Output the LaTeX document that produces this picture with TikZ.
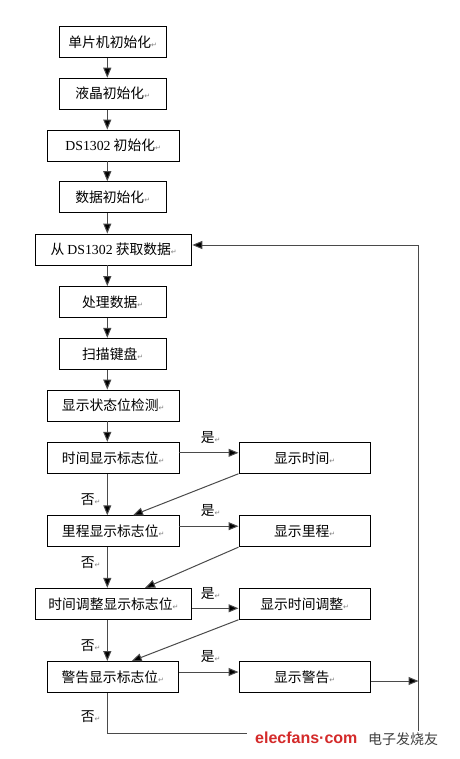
\documentclass[tikz,border=0pt]{standalone}
\usepackage{fontspec}
\setmainfont{Liberation Serif}
\newfontfamily\cjk{Noto Sans CJK SC}
\newfontfamily\dejavu{DejaVu Sans}
\newfontfamily\wmfont{Liberation Sans}
\usetikzlibrary{arrows.meta}
\definecolor{linegray}{HTML}{4A4A4A}
\definecolor{wmred}{HTML}{D42A2A}
\newcommand{\ret}{{\dejavu\fontsize{7}{7}\selectfont\textcolor{gray}{↵}}}
\begin{document}
\begin{tikzpicture}[x=1pt,y=-1pt,
  box/.style={draw=black, line width=0.9pt, minimum height=31pt, inner sep=0pt,
    font=\cjk\fontsize{13.8}{16}\selectfont},
  wsmall/.style={minimum width=106.7pt},
  wmid/.style={minimum width=131.5pt},
  wbig/.style={minimum width=156.3pt},
  lbl/.style={anchor=west, inner sep=0pt, font=\cjk\fontsize{13.8}{16}\selectfont},
  arr/.style={draw=linegray, line width=1pt, -{Triangle[length=10pt,width=8pt,fill=black]}}
]
\fill[white] (0,0) rectangle (459,759);
\useasboundingbox (0,0) rectangle (459,759);

\node[box,wsmall] (b1) at (112.7,42) {单片机初始化\ret};
\node[box,wsmall] (b2) at (112.7,93.7) {液晶初始化\ret};
\node[box,wmid] (b3) at (113.2,145.5) {{\rmfamily DS1302} 初始化\ret};
\node[box,wsmall] (b4) at (112.7,197.2) {数据初始化\ret};
\node[box,wbig] (b5) at (113.7,249.5) {从 {\rmfamily DS1302} 获取数据\ret};
\node[box,wsmall] (b6) at (112.7,302) {处理数据\ret};
\node[box,wsmall] (b7) at (112.7,353.8) {扫描键盘\ret};
\node[box,wmid] (b8) at (113.2,405.5) {显示状态位检测\ret};
\node[box,wmid] (b9) at (113.2,457.8) {时间显示标志位\ret};
\node[box,wmid] (b10) at (304.7,457.8) {显示时间\ret};
\node[box,wmid] (b11) at (113.2,531.2) {里程显示标志位\ret};
\node[box,wmid] (b12) at (304.7,531.2) {显示里程\ret};
\node[box,wbig] (b13) at (113.4,603.8) {时间调整显示标志位\ret};
\node[box,wmid] (b14) at (304.7,603.8) {显示时间调整\ret};
\node[box,wmid] (b15) at (112.8,677) {警告显示标志位\ret};
\node[box,wmid] (b16) at (304.7,677) {显示警告\ret};

\coordinate (ax) at (107.3,0);
\coordinate (lx) at (418.5,0);
\coordinate (by) at (0,733);

\draw[arr] (b1.south -| ax) -- (b2.north -| ax);
\draw[arr] (b2.south -| ax) -- (b3.north -| ax);
\draw[arr] (b3.south -| ax) -- (b4.north -| ax);
\draw[arr] (b4.south -| ax) -- (b5.north -| ax);
\draw[arr] (b5.south -| ax) -- (b6.north -| ax);
\draw[arr] (b6.south -| ax) -- (b7.north -| ax);
\draw[arr] (b7.south -| ax) -- (b8.north -| ax);
\draw[arr] (b8.south -| ax) -- (b9.north -| ax);
\draw[arr] (b9.south -| ax) -- (b11.north -| ax);
\draw[arr] (b11.south -| ax) -- (b13.north -| ax);
\draw[arr] (b13.south -| ax) -- (b15.north -| ax);

\draw[arr] ([yshift=5pt]b9.east) -- ([yshift=5pt]b10.west);
\draw[arr] ([yshift=5pt]b11.east) -- ([yshift=5pt]b12.west);
\draw[arr] ([yshift=-4.5pt]b13.east) -- ([yshift=-4.5pt]b14.west);
\draw[arr] ([yshift=5pt]b15.east) -- ([yshift=5pt]b16.west);

\draw[arr] (b10.south west) -- ([xshift=19.8pt]b11.north);
\draw[arr] (b12.south west) -- ([xshift=31.7pt]b13.north);
\draw[arr] (b14.south west) -- ([xshift=18.9pt]b15.north);

\draw[arr] ([yshift=-4pt]b16.east) -- ([yshift=-4pt]b16.east -| lx);
\draw[arr] (b15.south -| ax) |- (by -| lx) |- ([yshift=4.5pt]b5.east);

\node[lbl] (y1) at (200.7,438) {是\ret};
\node[lbl] (y2) at (200.7,511) {是\ret};
\node[lbl] (y3) at (200.7,594) {是\ret};
\node[lbl] (y4) at (200.7,657) {是\ret};
\node[lbl] (n1) at (80.7,500) {否\ret};
\node[lbl] (n2) at (80.7,563) {否\ret};
\node[lbl] (n3) at (80.7,646) {否\ret};
\node[lbl] (n4) at (80.7,717) {否\ret};

\fill[white] (247,730.5) rectangle (459,759);
\node[anchor=west, inner sep=0pt, text=wmred, font=\wmfont\bfseries\fontsize{16}{16}\selectfont] (wm1) at (255,738) {elecfans·com};
\node[anchor=west, inner sep=0pt, text=black!75, font=\cjk\fontsize{14}{14}\selectfont] (wm2) at (368,739) {电子发烧友};
\end{tikzpicture}
\end{document}
